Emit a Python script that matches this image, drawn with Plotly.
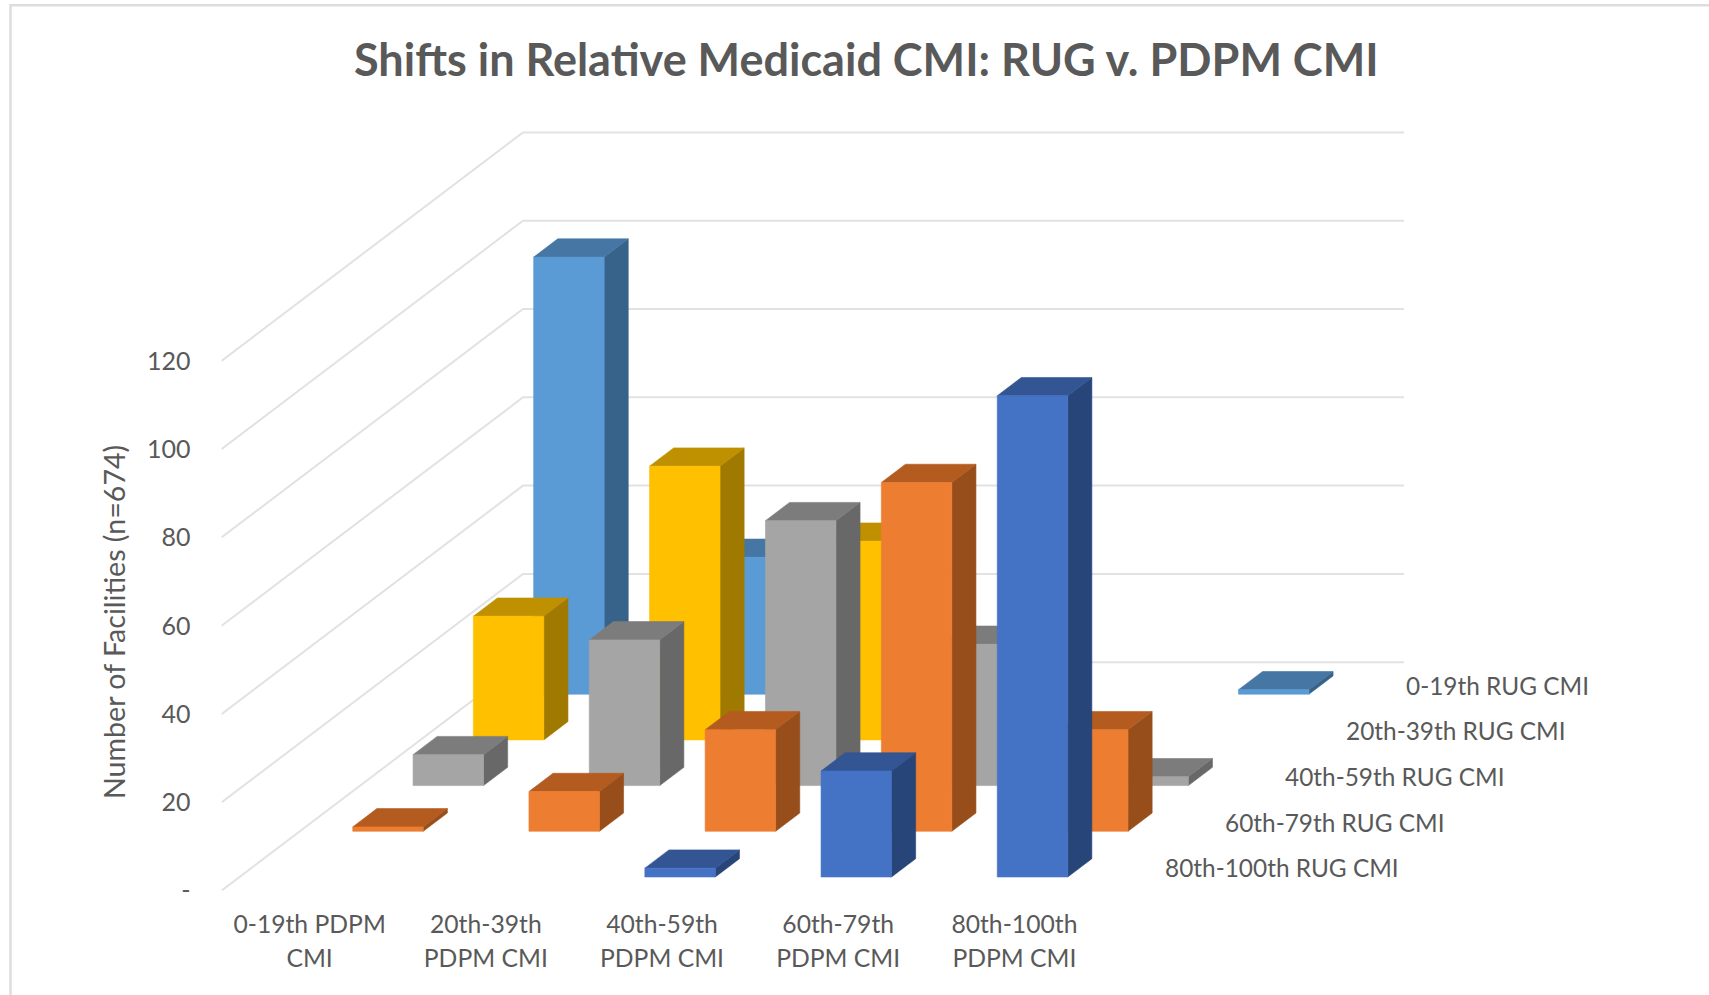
import plotly.graph_objects as go

# ---- data -----------------------------------------------------------------
pdpm_categories = ["0-19th PDPM|CMI", "20th-39th|PDPM CMI", "40th-59th|PDPM CMI",
                   "60th-79th|PDPM CMI", "80th-100th|PDPM CMI"]
rug_series = ["80th-100th RUG CMI", "60th-79th RUG CMI", "40th-59th RUG CMI",
              "20th-39th RUG CMI", "0-19th RUG CMI"]
rug_80_100 = [0, 0, 2, 24, 109]
rug_60_79 = [1, 9, 23, 79, 23]
rug_40_59 = [7, 33, 60, 32, 2]
rug_20_39 = [28, 62, 45, 0, 0]
rug_0_19 = [99, 31, 0, 0, 1]
series_values = [rug_80_100, rug_60_79, rug_40_59, rug_20_39, rug_0_19]
y_ticks = [0, 20, 40, 60, 80, 100, 120]
y_tick_labels = ["-", "20", "40", "60", "80", "100", "120"]

# ---- style ------------------------------------------------------------------
face_colors = [
    ("#4472C4", "#335593", "#284579"),
    ("#ED7D31", "#B45B20", "#974E1B"),
    ("#A5A5A5", "#7C7C7C", "#686868"),
    ("#FFC000", "#BF9000", "#A07900"),
    ("#5B9BD5", "#4676A3", "#37638A"),
]
TEXT = "#595959"
GRID = "#E2E2E2"
FONT = "Lato"
W, H = 1709, 995
PLOT_L, PLOT_R, PLOT_T, PLOT_B = 221.5, 1406.0, 130.0, 890.7
CAT_PX, UNIT_PX = 176.2, 4.415
DEPTH_X = 60.3 / CAT_PX       # category units per depth row
DEPTH_Y = 45.7 / UNIT_PX      # value units per depth row
BAR_W = 0.4
GAP = 0.3
N_ROWS = len(rug_series)
X_MIN = -0.5
X_MAX = X_MIN + (PLOT_R - PLOT_L) / CAT_PX
Y_MAX = (PLOT_B - PLOT_T) / UNIT_PX


def project(x, depth, v):
    """Oblique projection: depth moves a point up and to the right."""
    return x + depth * DEPTH_X, v + depth * DEPTH_Y


def face(points, color):
    xs, ys = zip(*[project(*p) for p in points])
    return go.Scatter(x=list(xs) + [xs[0]], y=list(ys) + [ys[0]], mode="lines", fill="toself",
                      fillcolor=color, line=dict(color=color, width=0.6),
                      hoverinfo="skip", showlegend=False)


fig = go.Figure()

# walls
left_edge = X_MIN
right_edge = X_MIN + len(pdpm_categories)
for t in y_ticks:
    xs, ys = zip(project(left_edge, 0, t), project(left_edge, N_ROWS, t), project(right_edge, N_ROWS, t))
    fig.add_trace(go.Scatter(x=list(xs), y=list(ys), mode="lines",
                             line=dict(color=GRID, width=2), hoverinfo="skip", showlegend=False))

# bars, back row first
for r in reversed(range(N_ROWS)):
    front_c, top_c, side_c = face_colors[r]
    d0, d1 = r + GAP, r + GAP + BAR_W
    for c, v in enumerate(series_values[r]):
        if v <= 0:
            continue
        x0, x1 = c - BAR_W / 2, c + BAR_W / 2
        fig.add_trace(face([(x1, d0, 0), (x1, d1, 0), (x1, d1, v), (x1, d0, v)], side_c))
        fig.add_trace(face([(x0, d0, v), (x1, d0, v), (x1, d1, v), (x0, d1, v)], top_c))
        fig.add_trace(face([(x0, d0, 0), (x1, d0, 0), (x1, d0, v), (x0, d0, v)], front_c))

# depth axis labels
annotations = []
for r, name in enumerate(rug_series):
    ax, _ = project(right_edge, r + 1, 0)
    _, ay = project(right_edge, r + 0.5, 0)
    annotations.append(dict(x=ax, y=ay, xref="x", yref="y", text=name, showarrow=False,
                            xanchor="left", yanchor="middle", font=dict(family=FONT, size=24.4, color=TEXT)))

annotations.append(dict(x=114 / W, y=1 - 622 / H, xref="paper", yref="paper",
                        text="Number of Facilities (n=674)", textangle=-90, showarrow=False,
                        xanchor="center", yanchor="middle", font=dict(family=FONT, size=28.6, color=TEXT)))
annotations.append(dict(x=867 / W, y=1 - 59 / H, xref="paper", yref="paper",
                        text="<b>Shifts in Relative Medicaid CMI: RUG v. PDPM CMI</b>", showarrow=False,
                        xanchor="center", yanchor="middle", font=dict(family=FONT, size=45, color=TEXT)))

tick_text = ['<br>'.join('<span style="font-size:24.7px">%s</span>' % s for s in cat.split("|"))
             for cat in pdpm_categories]

fig.update_layout(
    width=W, height=H, margin=dict(l=0, r=0, t=0, b=0),
    paper_bgcolor="white", plot_bgcolor="white", showlegend=False,
    annotations=annotations,
    xaxis=dict(domain=[PLOT_L / W, PLOT_R / W], range=[X_MIN, X_MAX], tickmode="array",
               tickvals=list(range(len(pdpm_categories))), ticktext=tick_text,
               tickfont=dict(family=FONT, size=26, color=TEXT), tickangle=0, automargin=False,
               showgrid=False, zeroline=False, showline=False, ticks="", ticklabelstandoff=15),
    yaxis=dict(domain=[1 - PLOT_B / H, 1 - PLOT_T / H], range=[0, Y_MAX], tickmode="array",
               tickvals=y_ticks, ticktext=y_tick_labels, automargin=False,
               tickfont=dict(family=FONT, size=25, color=TEXT),
               showgrid=False, zeroline=False, showline=False, ticks="", ticklabelstandoff=30),
    shapes=[
        dict(type="line", xref="paper", yref="paper", x0=10.5 / W, x1=10.5 / W, y0=0, y1=1 - 4 / H,
             line=dict(color="#DDDDDD", width=2.5)),
        dict(type="line", xref="paper", yref="paper", x0=10 / W, x1=1, y0=1 - 5.2 / H, y1=1 - 5.2 / H,
             line=dict(color="#DDDDDD", width=2.5)),
    ],
)

fig.write_html("out.html", config={"displayModeBar": False},
               post_script="document.body.style.margin='0';document.body.style.overflow='hidden';")
